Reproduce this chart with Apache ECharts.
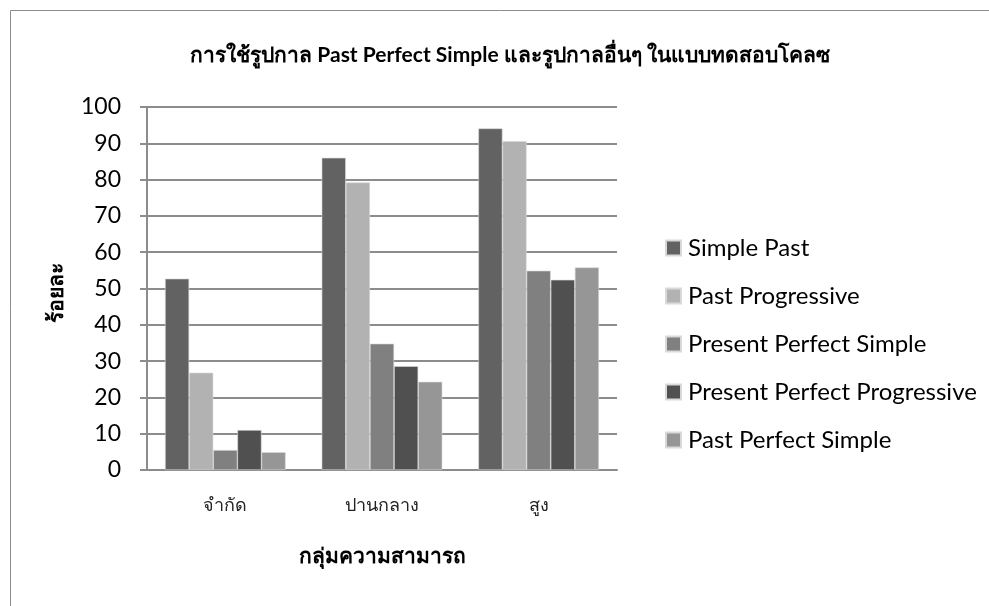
<!DOCTYPE html>
<html>
<head>
<meta charset="utf-8">
<script src="https://cdn.jsdelivr.net/npm/echarts@6/dist/echarts.min.js"></script>
<style>
  html, body { margin: 0; padding: 0; background: #fff; }
  #main { width: 989px; height: 606px; }
</style>
</head>
<body>
<div id="main"></div>
<script>
// data
const categories = ['จำกัด', 'ปานกลาง', 'สูง'];
const seriesNames = ['Simple Past', 'Past Progressive', 'Present Perfect Simple', 'Present Perfect Progressive', 'Past Perfect Simple'];
const simplePast = [52.7, 86, 94.1];
const pastProgressive = [26.8, 79.2, 90.6];
const presentPerfectSimple = [5.5, 34.8, 54.9];
const presentPerfectProgressive = [11, 28.6, 52.4];
const pastPerfectSimple = [4.9, 24.3, 55.8];
const yTicks = [0, 10, 20, 30, 40, 50, 60, 70, 80, 90, 100];

const colors = ['#626262', '#b2b2b2', '#808080', '#505050', '#969696'];
const values = [simplePast, pastProgressive, presentPerfectSimple, presentPerfectProgressive, pastPerfectSimple];

const chart = echarts.init(document.getElementById('main'));

const option = {
  animation: false,
  textStyle: { fontFamily: 'Lato, "Noto Sans", sans-serif' },
  title: {
    text: 'การใช้รูปกาล Past Perfect Simple และรูปกาลอื่นๆ ในแบบทดสอบโคลซ',
    left: 505,
    textAlign: 'center',
    top: 40,
    textStyle: { fontSize: 21, fontWeight: 'bold', color: '#000' }
  },
  graphic: [{
    type: 'rect',
    shape: { x: 10.5, y: 10.5, width: 1000, height: 700 },
    style: { fill: 'none', stroke: '#8c8c8c', lineWidth: 1 },
    silent: true
  }, {
    type: 'text',
    x: 56, y: 293,
    rotation: Math.PI / 2,
    style: {
      text: 'ร้อยละ',
      font: 'bold 21px Lato, "Noto Sans", sans-serif',
      fill: '#000',
      align: 'center',
      verticalAlign: 'middle'
    }
  }],
  legend: {
    orient: 'vertical',
    left: 660,
    top: 231,
    itemWidth: 15,
    itemHeight: 15,
    itemGap: 24,
    icon: 'rect',
    textStyle: { fontSize: 24, color: '#000', padding: [0, 0, 0, 2] },
    data: seriesNames
  },
  grid: { left: 147, right: 372, top: 107, bottom: 136 },
  xAxis: {
    type: 'category',
    data: categories,
    name: 'กลุ่มความสามารถ',
    nameLocation: 'middle',
    nameGap: 76,
    nameTextStyle: { fontSize: 21, fontWeight: 'bold', color: '#000' },
    axisTick: { show: false },
    axisLine: { lineStyle: { color: '#8c8c8c', width: 2 } },
    axisLabel: { fontSize: 18, color: '#222', margin: 26 }
  },
  yAxis: {
    type: 'value',
    min: yTicks[0],
    max: yTicks[yTicks.length - 1],
    interval: 10,
    axisLine: { show: true, lineStyle: { color: '#8c8c8c', width: 2 } },
    axisTick: { show: true, length: 7, lineStyle: { color: '#8c8c8c', width: 2 } },
    axisLabel: { fontSize: 23, color: '#000', margin: 26 },
    splitLine: { lineStyle: { color: '#8c8c8c', width: 2 } }
  },
  series: seriesNames.map((name, i) => ({
    name: name,
    type: 'bar',
    data: values[i],
    barGap: '0%',
    barCategoryGap: '23%',
    itemStyle: { color: colors[i], borderColor: '#d9d9d9', borderWidth: 0.6 }
  }))
};

chart.setOption(option);
</script>
</body>
</html>
